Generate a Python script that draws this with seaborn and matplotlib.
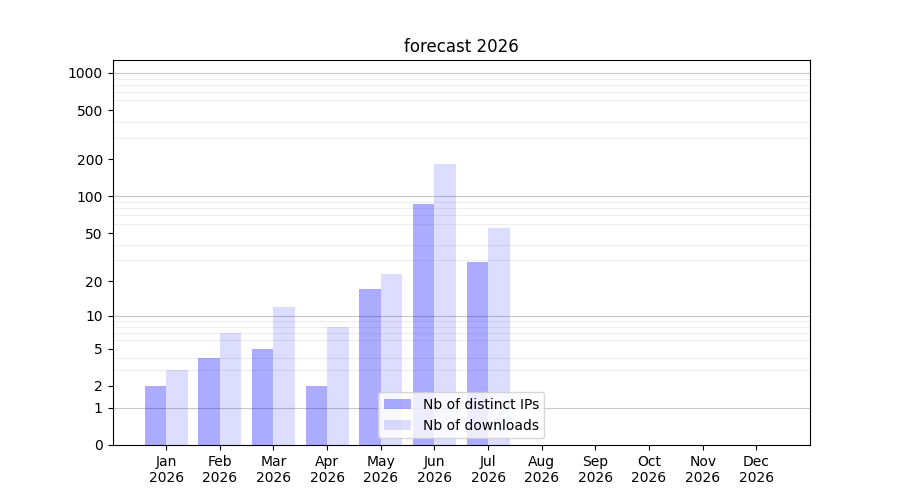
import numpy as np, pandas as pd
import matplotlib
matplotlib.use("Agg")
import matplotlib.pyplot as plt
import seaborn as sns

months = ['Jan', 'Feb', 'Mar', 'Apr', 'May', 'Jun', 'Jul', 'Aug', 'Sep', 'Oct', 'Nov', 'Dec']
year = '2026'
distinct_ips = [2, 4, 5, 2, 17, 87, 29, 0, 0, 0, 0, 0]
downloads = [3, 7, 12, 8, 23, 184, 55, 0, 0, 0, 0, 0]
series_names = ['Nb of distinct IPs', 'Nb of downloads']
y_ticks = [0, 1, 2, 5, 10, 20, 50, 100, 200, 500, 1000]

#%%
df = pd.DataFrame({
    'month': months * 2,
    'value': distinct_ips + downloads,
    'series': [series_names[0]] * len(months) + [series_names[1]] * len(months),
})

fig, ax = plt.subplots(figsize=(9, 5), dpi=100)
sns.barplot(data=df, x='month', y='value', hue='series', order=months,
            hue_order=series_names, palette=['blue', 'blue'], saturation=1,
            width=0.8, legend=False, ax=ax)
for cont, a in zip(ax.containers, [0.33, 0.135]):
    for p in cont:
        p.set_alpha(a)
        p.set_edgecolor('none')

# log(1+x) scale
f = lambda v: np.log10(1 + np.clip(v, 0, None))
finv = lambda v: 10 ** v - 1
ax.set_yscale('function', functions=(f, finv))
ax.set_ylim(0, 1272)
ax.set_xlim(-1, 12)

ax.set_yticks(y_ticks)
ax.set_yticklabels([str(t) for t in y_ticks])
minor = [m * d for d in [1, 10, 100] for m in range(2, 10)]
ax.set_yticks(minor, minor=True)
ax.tick_params(axis='y', which='minor', length=0)
ax.grid(True, axis='y', which='minor', color='#eeeeee', linewidth=0.8)
ax.set_axisbelow(True)
for d in [1, 10, 100, 1000]:
    ax.axhline(d, color='#c8c8c8', linewidth=0.8, zorder=0.5)

ax.set_xticks(range(len(months)))
ax.set_xticklabels([m + '\n' + year for m in months])
ax.set_xlabel('')
ax.set_ylabel('')
ax.set_title('forecast ' + year)
ax.legend(ax.containers, series_names, loc='lower center')

plt.subplots_adjust(left=0.125, right=0.9, top=0.88, bottom=0.11)
plt.savefig('out.png')
